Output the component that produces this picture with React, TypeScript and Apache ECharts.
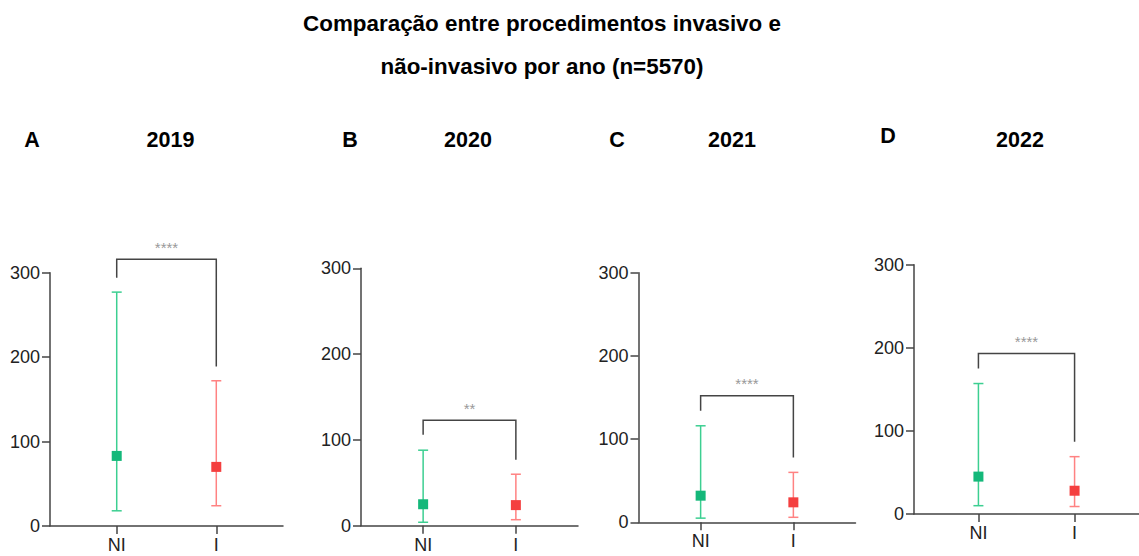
import React, { useEffect, useRef } from "react";
import * as echarts from "echarts";

const titleLines = ["Comparação entre procedimentos invasivo e", "não-invasivo por ano (n=5570)"];
const years = ["2019", "2020", "2021", "2022"];
const panelLetters = ["A", "B", "C", "D"];
const categories = ["NI", "I"];
const yTicks = [0, 100, 200, 300];

const niMean = [83, 25, 32, 45];
const niLow = [18, 4, 5, 10];
const niHigh = [277, 88, 116, 157];
const iMean = [70, 24, 24, 28];
const iLow = [24, 7, 6, 9];
const iHigh = [172, 60, 60, 69];

const bracketTop = [316, 123, 152, 193];
const bracketNiLeg = [294, 106, 134, 175];
const bracketILeg = [189, 77, 78, 87];
const sigLabels = ["****", "**", "****", "****"];

// layout (pixels)
const grids = [
  { left: 50, top: 272.7, width: 233, height: 253.3 },
  { left: 361, top: 268.3, width: 217, height: 257.4 },
  { left: 638.5, top: 272.7, width: 217, height: 249.6 },
  { left: 914, top: 264.7, width: 233, height: 249.3 },
];
const letterPos = [
  [32, 140],
  [350, 140],
  [617, 140],
  [888, 136],
];
const yearPos = [
  [170.5, 140],
  [468, 140],
  [732, 140],
  [1020, 140],
];

const FONT = "Liberation Sans, Arial, sans-serif";
const AXIS = "#444";
const GREEN_LINE = "#3ccf91";
const GREEN_MARK = "#14b87a";
const RED_LINE = "#ff8282";
const RED_MARK = "#f43f3f";

function errorBarRender(color: string) {
  return (params: any, api: any) => {
    const x = api.value(0);
    const lo = api.coord([x, api.value(1)]);
    const hi = api.coord([x, api.value(2)]);
    const hw = 5;
    const style = { stroke: color, lineWidth: 1.5, fill: "none" };
    return {
      type: "group",
      children: [
        { type: "line", shape: { x1: lo[0], y1: lo[1], x2: hi[0], y2: hi[1] }, style },
        { type: "line", shape: { x1: hi[0] - hw, y1: hi[1], x2: hi[0] + hw, y2: hi[1] }, style },
        { type: "line", shape: { x1: lo[0] - hw, y1: lo[1], x2: lo[0] + hw, y2: lo[1] }, style },
      ],
    };
  };
}

function bracketRender(label: string) {
  return (params: any, api: any) => {
    const x1 = api.value(0);
    const x2 = api.value(1);
    const top = api.value(2);
    const a = api.coord([x1, api.value(3)]);
    const b = api.coord([x1, top]);
    const c = api.coord([x2, top]);
    const d = api.coord([x2, api.value(4)]);
    return {
      type: "group",
      children: [
        {
          type: "polyline",
          shape: { points: [a, b, c, d] },
          style: { stroke: AXIS, lineWidth: 1.5, fill: "none" },
        },
        {
          type: "text",
          x: (b[0] + c[0]) / 2,
          y: b[1] - 12,
          style: {
            text: label,
            fill: "#999",
            font: `15px ${FONT}`,
            textAlign: "center",
            textVerticalAlign: "middle",
          },
        },
      ],
    };
  };
}

export default function App() {
  const ref = useRef<HTMLDivElement>(null);
  useEffect(() => {
    document.body.style.margin = "0";
    if (!ref.current) return;
    const chart = echarts.init(ref.current, null, { renderer: "svg" });

    const xAxis: any[] = [];
    const yAxis: any[] = [];
    const series: any[] = [];
    const graphic: any[] = [];

    titleLines.forEach((t, i) => {
      graphic.push({
        type: "text",
        x: 542,
        y: 23 + i * 43,
        style: {
          text: t,
          font: `bold 22.4px ${FONT}`,
          fill: "#000",
          textAlign: "center",
          textVerticalAlign: "middle",
        },
      });
    });

    years.forEach((yr, p) => {
      graphic.push({
        type: "text",
        x: letterPos[p][0],
        y: letterPos[p][1],
        style: {
          text: panelLetters[p],
          font: `bold 21.5px ${FONT}`,
          fill: "#000",
          textAlign: "center",
          textVerticalAlign: "middle",
        },
      });
      graphic.push({
        type: "text",
        x: yearPos[p][0],
        y: yearPos[p][1],
        style: {
          text: yr,
          font: `bold 21.5px ${FONT}`,
          fill: "#000",
          textAlign: "center",
          textVerticalAlign: "middle",
        },
      });

      xAxis.push({
        type: "value",
        gridIndex: p,
        min: 0.33,
        max: 2.67,
        axisLine: { show: true, onZero: false, lineStyle: { color: AXIS, width: 1.5 } },
        axisTick: { show: true, length: 8, customValues: categories.map((_, i) => i + 1), lineStyle: { color: AXIS, width: 1.5 } },
        axisLabel: {
          customValues: categories.map((_, i) => i + 1),
          formatter: (v: number) => categories[Math.round(v) - 1] ?? "",
          fontSize: 18,
          color: "#222",
          fontFamily: FONT,
          margin: 10,
        },
        splitLine: { show: false },
      });
      yAxis.push({
        type: "value",
        gridIndex: p,
        min: yTicks[0],
        max: yTicks[yTicks.length - 1],
        interval: 100,
        axisLine: { show: true, onZero: false, lineStyle: { color: AXIS, width: 1.5 } },
        axisTick: { show: true, length: 8, lineStyle: { color: AXIS, width: 1.5 } },
        axisLabel: { fontSize: 18, color: "#222", fontFamily: FONT, margin: 10 },
        splitLine: { show: false },
      });

      series.push({
        type: "custom",
        xAxisIndex: p,
        yAxisIndex: p,
        clip: false,
        renderItem: errorBarRender(GREEN_LINE),
        data: [[1, niLow[p], niHigh[p]]],
        z: 2,
      });
      series.push({
        type: "custom",
        xAxisIndex: p,
        yAxisIndex: p,
        clip: false,
        renderItem: errorBarRender(RED_LINE),
        data: [[2, iLow[p], iHigh[p]]],
        z: 2,
      });
      series.push({
        type: "scatter",
        xAxisIndex: p,
        yAxisIndex: p,
        symbol: "rect",
        symbolSize: 10,
        itemStyle: { color: GREEN_MARK, opacity: 1 },
        data: [[1, niMean[p]]],
        z: 3,
      });
      series.push({
        type: "scatter",
        xAxisIndex: p,
        yAxisIndex: p,
        symbol: "rect",
        symbolSize: 10,
        itemStyle: { color: RED_MARK, opacity: 1 },
        data: [[2, iMean[p]]],
        z: 3,
      });
      series.push({
        type: "custom",
        xAxisIndex: p,
        yAxisIndex: p,
        clip: false,
        renderItem: bracketRender(sigLabels[p]),
        data: [[1, 2, bracketTop[p], bracketNiLeg[p], bracketILeg[p]]],
        z: 2,
      });
    });

    chart.setOption({
      animation: false,
      backgroundColor: "#fff",
      grid: grids.map((g) => ({ ...g, containLabel: false })),
      xAxis,
      yAxis,
      series,
      graphic,
    });
    return () => chart.dispose();
  }, []);
  return <div ref={ref} style={{ width: 1139, height: 556 }} />;
}
